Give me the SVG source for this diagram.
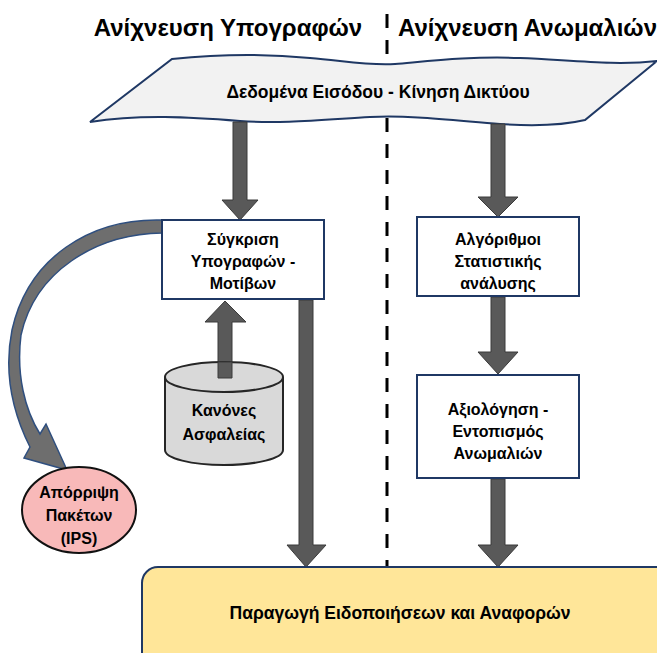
<svg xmlns="http://www.w3.org/2000/svg" width="657" height="653" viewBox="0 0 657 653">
<defs>
<style>
.t{font-family:"Liberation Sans",Arial,sans-serif;font-weight:bold;fill:#000;text-anchor:middle}
.title{font-size:24px}
.lbl{font-size:16px}
.box{fill:#fff;stroke:#1f3864;stroke-width:2}
.arr{fill:#595959;stroke:#3a3a3a;stroke-width:1}
</style>
</defs>
<rect width="657" height="653" fill="#fff"/>
<g id="titles">
<text class="t title" x="228" y="36">Ανίχνευση Υπογραφών</text>
<text class="t title" x="398" y="36" style="text-anchor:start">Ανίχνευση Ανωμαλιών</text>
</g>
<g id="divider">
<line x1="387" y1="14" x2="387" y2="567" stroke="#000" stroke-width="3" stroke-dasharray="14 12"/>
</g>
<g id="input">
<path d="M172,59 C220,54 270,54 310,58 C345,61 370,66 395,64 C430,61 470,56 520,58 C570,60 615,66 657,61 L585,120 C560,126 530,126 500,124 C450,120 410,115 370,117 C320,120 280,124 240,121 C190,117 140,114 90,122 Z" fill="#f2f2f2" stroke="#1f3864" stroke-width="2"/>
<text class="t" x="378" y="98" style="font-size:17.5px">Δεδομένα Εισόδου - Κίνηση Δικτύου</text>
</g>
<g id="connectors">
<path class="arr" d="M233,122 H247 V200 H258 L240,220 L222,200 H233 Z"/>
<path class="arr" d="M491,124 H505 V197 H518 L498,217 L478,197 H491 Z"/>
<path class="arr" d="M218,378 H232 V322 H246 L225,301 L205,322 H218 Z"/>
<path class="arr" d="M299,300 H313 V545 H326 L306,567 L287,545 H299 Z"/>
<path class="arr" d="M491,297 H505 V352 H518 L498,374 L478,352 H491 Z"/>
<path class="arr" d="M491,479 H505 V545 H518 L498,567 L478,545 H491 Z"/>
<path d="M162,220 C90,218 28,258 12,330 C3,375 14,415 30,447 L24,458 L67,470 L46,424 L40,434 C25,410 16,375 21,335 C35,272 95,234 162,233 Z" fill="#6e6e6e" stroke="#2f4f7f" stroke-width="1.5" stroke-linejoin="miter"/>
</g>
<g id="compare">
<rect class="box" x="162" y="220" width="162" height="79"/>
<text class="t lbl" x="243" y="245">Σύγκριση</text>
<text class="t lbl" x="243" y="267">Υπογραφών -</text>
<text class="t lbl" x="243" y="289">Μοτίβων</text>
</g>
<g id="rules">
<path d="M165,377 V450 A59,15 0 0 0 283,450 V377" fill="#d9d9d9" stroke="#262626" stroke-width="2"/>
<ellipse cx="224" cy="377" rx="59" ry="15" fill="#d9d9d9" stroke="#262626" stroke-width="2"/>
<path class="arr" d="M218,378 H232 V362 H218 Z" stroke="none"/>
<text class="t lbl" x="224" y="416">Κανόνες</text>
<text class="t lbl" x="224" y="440">Ασφαλείας</text>
</g>
<g id="drop">
<ellipse cx="79" cy="510" rx="57" ry="43" fill="#f8b9b9" stroke="#111" stroke-width="2"/>
<text class="t lbl" x="79" y="498">Απόρριψη</text>
<text class="t lbl" x="79" y="521">Πακέτων</text>
<text class="t lbl" x="79" y="544">(IPS)</text>
</g>
<g id="stats">
<rect class="box" x="417" y="217" width="162" height="79"/>
<text class="t lbl" x="498" y="245">Αλγόριθμοι</text>
<text class="t lbl" x="498" y="267">Στατιστικής</text>
<text class="t lbl" x="498" y="289">ανάλυσης</text>
</g>
<g id="evaluate">
<rect class="box" x="417" y="375" width="162" height="103"/>
<text class="t lbl" x="498" y="415">Αξιολόγηση -</text>
<text class="t lbl" x="498" y="437">Εντοπισμός</text>
<text class="t lbl" x="498" y="459">Ανωμαλιών</text>
</g>
<g id="alerts">
<rect x="142" y="567" width="540" height="110" rx="16" fill="#ffe699" stroke="#1f3864" stroke-width="2"/>
<text class="t" x="400" y="619" style="font-size:17.5px">Παραγωγή Ειδοποιήσεων και Αναφορών</text>
</g>
</svg>
